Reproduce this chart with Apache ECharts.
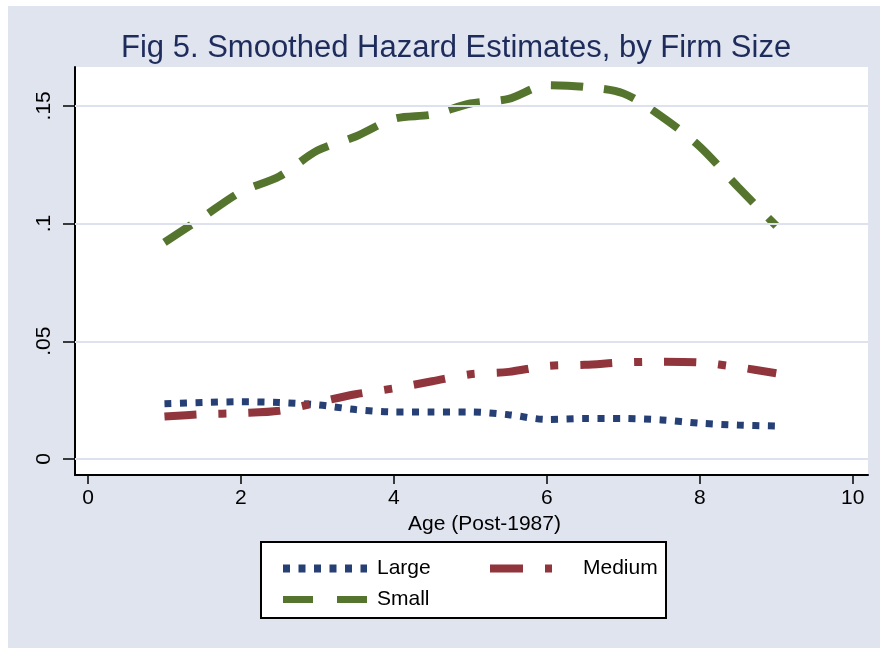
<!DOCTYPE html>
<html>
<head>
<meta charset="utf-8">
<title>Fig 5. Smoothed Hazard Estimates, by Firm Size</title>
<script src="https://cdn.jsdelivr.net/npm/echarts@6/dist/echarts.min.js"></script>
<style>
  html, body { margin: 0; padding: 0; background: #ffffff; }
  #chart { width: 880px; height: 648px; }
</style>
</head>
<body>
<div id="chart"></div>
<script>
  // age (post-1987) at which the smoothed hazards were read
  const ages = [1, 1.5, 2, 2.5, 3, 3.5, 4, 4.5, 5, 5.5, 6, 6.5, 7, 7.5, 8, 8.5, 9];
  const largeHazard = [0.0235, 0.024, 0.0243, 0.024, 0.023, 0.021, 0.020, 0.020, 0.020, 0.0188, 0.0168, 0.0172, 0.0172, 0.0166, 0.0152, 0.0144, 0.014];
  const mediumHazard = [0.018, 0.019, 0.0195, 0.0205, 0.024, 0.0275, 0.030, 0.033, 0.036, 0.037, 0.0395, 0.040, 0.041, 0.0413, 0.041, 0.039, 0.0364];
  const smallHazard = [0.092, 0.1027, 0.1135, 0.120, 0.131, 0.137, 0.1445, 0.1463, 0.151, 0.153, 0.1588, 0.158, 0.1553, 0.1455, 0.1327, 0.1155, 0.099];

  const xTicks = [0, 2, 4, 6, 8, 10];
  const yTicks = [0, 0.05, 0.1, 0.15];
  const seriesNames = ['Large', 'Medium', 'Small'];

  const FONT = "'Liberation Sans', Arial, sans-serif";
  // legend keys: line only, hide the marker ECharts puts in the middle
  const NO_MARKER = { color: 'rgba(0,0,0,0)', borderWidth: 0, opacity: 0 };

  const chart = echarts.init(document.getElementById('chart'));

  function pairs(values) {
    return ages.map((age, i) => [age, values[i]]);
  }

  function formatY(value) {
    if (value === 0) return '0';
    // Stata style: drop the leading zero
    return String(value).replace(/^0\./, '.');
  }

  const option = {
    animation: false,
    backgroundColor: '#e0e4ef',
    textStyle: { fontFamily: FONT },
    title: {
      text: 'Fig 5. Smoothed Hazard Estimates, by Firm Size',
      left: 121,
      top: 33,
      padding: 0,
      textStyle: {
        fontFamily: FONT,
        fontSize: 31,
        fontWeight: 'normal',
        color: '#1e2c5c',
      },
    },
    grid: {
      left: 75,
      right: 12,
      top: 67,
      bottom: 173,
      show: true,
      backgroundColor: '#ffffff',
      borderWidth: 0,
    },
    xAxis: {
      type: 'value',
      min: -0.17,
      max: 10.2,
      name: 'Age (Post-1987)',
      nameLocation: 'middle',
      nameGap: 33,
      nameTextStyle: {
        fontFamily: FONT,
        fontSize: 21,
        color: '#000',
        padding: [0, 0, 0, 26],
      },
      axisLine: { show: true, onZero: false, lineStyle: { color: '#000', width: 2 } },
      axisTick: {
        show: true,
        length: 9,
        customValues: xTicks,
        lineStyle: { color: '#000', width: 1.5 },
      },
      axisLabel: {
        customValues: xTicks,
        fontFamily: FONT,
        fontSize: 21,
        color: '#000',
        margin: 13,
      },
      splitLine: { show: false },
    },
    yAxis: {
      type: 'value',
      min: -0.0068,
      max: 0.1665,
      axisLine: { show: true, onZero: false, lineStyle: { color: '#000', width: 2 } },
      axisTick: {
        show: true,
        length: 12,
        customValues: yTicks,
        lineStyle: { color: '#000', width: 1.5 },
      },
      axisLabel: {
        customValues: yTicks,
        rotate: 90,
        fontFamily: FONT,
        fontSize: 21,
        color: '#000',
        margin: 20,
        formatter: formatY,
      },
      splitLine: { show: false },
    },
    legend: [
      {
        data: [
          { name: 'Large', lineStyle: { width: 8, type: [7, 8.5] }, itemStyle: NO_MARKER },
          { name: 'Small', lineStyle: { width: 7, type: [30, 24] }, itemStyle: NO_MARKER },
        ],
        orient: 'vertical',
        left: 279,
        top: 558,
        padding: 0,
        itemWidth: 84,
        itemHeight: 20,
        itemGap: 10,
        selectedMode: false,
        z: 10,
        textStyle: {
          fontFamily: FONT,
          fontSize: 21,
          color: '#000',
          lineHeight: 20,
          padding: [0, 0, 0, 5],
        },
      },
      {
        data: [
          { name: 'Medium', lineStyle: { width: 8, type: [33, 22, 7, 22] }, itemStyle: NO_MARKER },
        ],
        orient: 'vertical',
        left: 486,
        top: 558,
        padding: 0,
        itemWidth: 63,
        itemHeight: 20,
        selectedMode: false,
        z: 10,
        textStyle: {
          fontFamily: FONT,
          fontSize: 21,
          color: '#000',
          lineHeight: 20,
          padding: [0, 0, 0, 25],
        },
      },
    ],
    graphic: [
      {
        type: 'rect',
        z: 0,
        shape: { x: 261, y: 542, width: 405, height: 76 },
        style: { fill: '#ffffff', stroke: '#000', lineWidth: 2 },
      },
      {
        type: 'rect',
        z: 0,
        shape: { x: 0, y: 0, width: 880, height: 6 },
        style: { fill: '#ffffff' },
      },
      {
        type: 'rect',
        z: 0,
        shape: { x: 0, y: 0, width: 8, height: 648 },
        style: { fill: '#ffffff' },
      },
    ],
    series: [
      {
        // light horizontal grid lines behind the curves
        name: 'grid',
        type: 'line',
        data: [],
        z: 1,
        silent: true,
        markLine: {
          silent: true,
          symbol: 'none',
          label: { show: false },
          lineStyle: { color: '#dde2ee', width: 2, type: 'solid' },
          data: yTicks.map((v) => ({ yAxis: v })),
        },
      },
      {
        name: seriesNames[0],
        type: 'line',
        data: pairs(largeHazard),
        symbol: 'none',
        smooth: 0.3,
        z: 3,
        lineStyle: { color: '#263f74', width: 7, type: [7, 8.5], cap: 'butt' },
        itemStyle: { color: '#263f74' },
      },
      {
        name: seriesNames[1],
        type: 'line',
        data: pairs(mediumHazard),
        symbol: 'none',
        smooth: 0.3,
        z: 3,
        lineStyle: { color: '#90353b', width: 8, type: [32, 22, 8, 22], cap: 'butt' },
        itemStyle: { color: '#90353b' },
      },
      {
        name: seriesNames[2],
        type: 'line',
        data: pairs(smallHazard),
        symbol: 'none',
        smooth: 0.3,
        z: 3,
        lineStyle: { color: '#55752f', width: 8, type: [32, 21], cap: 'butt' },
        itemStyle: { color: '#55752f' },
      },
    ],
  };

  chart.setOption(option);

  window.addEventListener('resize', () => {
    chart.resize();
  });
</script>
</body>
</html>
